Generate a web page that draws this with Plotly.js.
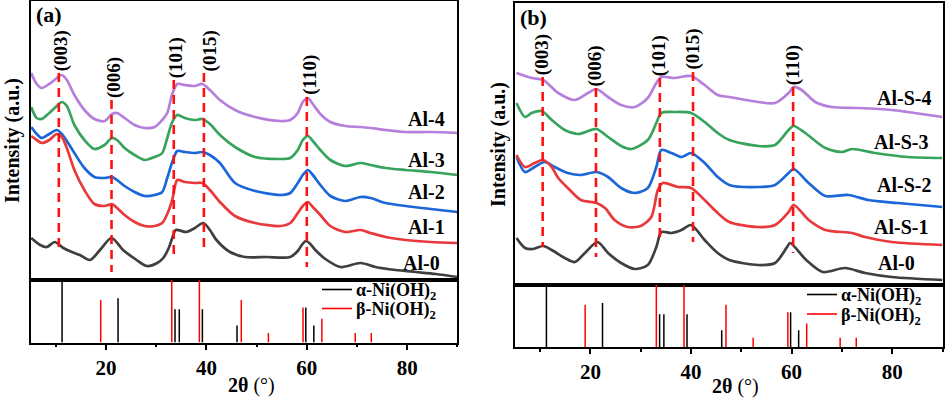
<!DOCTYPE html>
<html><head><meta charset="utf-8">
<script src="https://cdn.plot.ly/plotly-3.0.1.min.js"></script>
<style>html,body{margin:0;padding:0;background:#fff}#c{width:945px;height:398px}</style>
</head><body><div id="c"></div>
<script>
// ---------------- DATA ----------------
// Panel (a): 2θ (deg) and intensity (a.u., offset stacked as in figure)
const xA = [5.1, 6.2, 7.2, 8.7, 10.2, 11.2, 12.2, 13.7, 15.7, 17.7, 19.7, 21.2, 22.2, 23.7, 25.7, 27.7, 29.7, 31.2, 32.2, 33.2, 34.2, 35.7, 37.7, 39.2, 40.7, 42.7, 45.7, 49.7, 54.7, 56.7, 58.2, 59.2, 60.2, 61.2, 62.7, 64.7, 67.7, 70.7, 72.7, 75.7, 79.7, 84.7, 90];
const al4 = [227,216,212,216,222,225,220,205,190,181, 179,186,187,182,175,172,173,180,187,206, 216,215,214,216,210,200,190,183,179,180, 187,198,202,196,186,178,174,173,172,170, 168,168,167];
const al3 = [193,182,181,187,194,198,194,175,160,151, 155,162,160,152,145,140,143,147,162,178, 185,182,180,181,176,165,153,143,141,142, 150,160,164,159,150,140,134,137,135,132, 130,128,125];
const al2 = [173,166,162,166,170,166,159,147,132,123, 122,123,120,114,108,104,105,108,122,138, 149,148,147,148,145,137,117,109,105,107, 117,125,130,125,115,104,99,103,102,97, 94,91,88];
const al1 = [164,160,157,160,166,163,152,130,110,96, 94,96,92,85,78,74,74,77,86,100, 120,118,117,117,110,98,84,77,74,77, 87,94,98,93,85,74,68,70,67,63, 60,58,57];
const xA0 = [5.1, 6.9, 8.2, 9.8, 11.5, 13.2, 14.8, 16.8, 18.8, 21.1, 23.4, 26.1, 28.1, 30.2, 31.4, 32.5, 33.2, 33.9, 36.0, 37.7, 39.4, 40.7, 42.0, 44.7, 47.7, 52.0, 56.7, 58.2, 59.0, 59.8, 60.7, 61.7, 63.7, 66.7, 70.7, 73.7, 77.7, 81.7, 85.7, 90];
const al0a = [62,55,53,58,52,48,45,40,50,62, 50,40,34,37,42,52,62,70,68,72, 77,70,60,48,43,43,43,49,55,59, 56,50,41,33,37,33,30,28,26,23];

// Panel (b)
const xS4 = [5.3, 8.3, 10.6, 13.6, 16.9, 19.5, 21.2, 23.5, 26.1, 28.8, 31.4, 33.1, 34.1, 36.7, 40.0, 42.7, 45.3, 47.6, 53.4, 56.7, 59.4, 60.4, 62.0, 64.7, 68.0, 73.2, 79.9, 83.1, 90];
const alS4 = [227,222,220,207,200,207,211,203,195,193, 202,217,223,222,224,215,205,203,198,197, 207,213,210,198,193,192,190,188,183];
const xS3 = [5.3, 7, 8.3, 10.3, 12.3, 14.9, 17.6, 21.2, 23.5, 26.1, 28.1, 31.4, 33.1, 34.1, 36.7, 40.0, 42.7, 45.3, 47.6, 53.4, 56.7, 59.4, 60.4, 62.7, 66.7, 70.0, 72.0, 76.6, 83.1, 90];
const alS3 = [197,183,187,189,180,170,166,171,163,154, 151,160,177,187,188,187,178,167,160,154, 155,170,174,167,152,148,151,147,143,142];
const xS2 = [5.3, 7, 8.9, 10.9, 12.9, 15.5, 18.1, 21.2, 23.5, 26.1, 28.8, 31.4, 33.1, 34.1, 36.1, 38.1, 40.0, 42.7, 45.3, 47.6, 53.4, 56.7, 59.4, 60.4, 63.4, 66.7, 71.3, 75.2, 81.1, 90];
const alS2 = [143,128,133,138,133,127,125,128,123,112, 107,112,133,150,147,143,147,137,123,115, 113,115,127,131,117,104,105,100,97,93];
const xS1 = [5.3, 7, 8.9, 10.6, 12.3, 13.6, 15.5, 18.1, 21.2, 22.9, 24.8, 27.4, 30.0, 32.1, 33.4, 34.4, 37.4, 40.0, 42.7, 45.3, 47.6, 53.4, 56.7, 59.4, 60.4, 63.4, 66.7, 72.0, 74.6, 79.9, 90];
const alS1 = [145,133,137,140,133,122,112,100,97,92, 80,73,74,83,110,117,113,112,100,87, 78,73,75,88,95,80,70,67,63,58, 55];
const xB0 = [5.3, 7, 8.6, 10.6, 12.3, 14.9, 16.9, 18.9, 21.4, 23.5, 26.1, 28.8, 31.4, 33.1, 34.1, 36.1, 38.1, 40.0, 42.7, 45.3, 47.6, 53.4, 56.7, 59.1, 59.7, 62.9, 66.2, 70.6, 74.6, 79.9, 90];
const al0b = [62,52,51,54,50,42,38,47,58,47, 37,31,35,53,68,67,70,75,60,47, 40,35,37,53,57,40,28,32,27,23, 20];

// Reference patterns (relative intensity)
const alphaPos = [11.25, 22.4, 33.75, 34.6, 39.2, 46.1, 59.8, 61.4];
const alphaInt = [1.0, 0.71, 0.53, 0.53, 0.53, 0.27, 0.56, 0.27];
const betaPos = [18.95, 33.1, 38.6, 46.95, 52.35, 59.25, 63.0, 69.65, 72.85];
const betaInt = [0.68, 1.0, 1.0, 0.68, 0.15, 0.56, 0.38, 0.15, 0.15];

// Miller indices and marker lines
const hkl = ['(003)', '(006)', '(101)', '(015)', '(110)'];
const hklPosA = [10.6, 21.1, 33.5, 39.5, 60.0];
const hklTopA = [227, 200, 220, 227, 203];
const hklBotA = [53, 28, 43, 52, 33];
const hklPosB = [10.5, 21.1, 33.8, 40.4, 60.3];
const hklTopB = [223, 212, 222, 228, 213];
const hklBotB = [53, 43, 60, 58, 47];

const namesA = ['Al-4', 'Al-3', 'Al-2', 'Al-1', 'Al-0'];
const namesB = ['Al-S-4', 'Al-S-3', 'Al-S-2', 'Al-S-1', 'Al-0'];

// ---------------- STYLE / LAYOUT ----------------
const W = 945, H = 398;
const FONT = 'Liberation Serif, Times New Roman, serif';
const COLORS = ['#b67fdb', '#38a35c', '#1b67d8', '#e8393c', '#3f3f3f'];
const fx = p => p / W, fy = p => 1 - p / H;

function curve(x, y, c, xa, ya) {
  return {x, y, xaxis: xa, yaxis: ya, type: 'scatter', mode: 'lines', showlegend: false,
    hoverinfo: 'skip', line: {color: c, width: 2.7, shape: 'spline', smoothing: 0.8}};
}
function sticks(pos, val, c, xa, ya) {
  const x = [], y = [];
  pos.forEach((p, i) => { x.push(p, p, null); y.push(0, val[i], null); });
  return {x, y, xaxis: xa, yaxis: ya, type: 'scatter', mode: 'lines', showlegend: false,
    hoverinfo: 'skip', line: {color: c, width: 1.5}};
}
function dashes(pos, top, bot, xa, ya) {
  const x = [], y = [];
  pos.forEach((p, i) => { x.push(p, p, null); y.push(top[i], bot[i], null); });
  return {x, y, xaxis: xa, yaxis: ya, type: 'scatter', mode: 'lines', showlegend: false,
    hoverinfo: 'skip', line: {color: '#ff1010', width: 2.6, dash: '9px,6px'}};
}

const data = [
  curve(xA, al4, COLORS[0], 'x', 'y'),
  curve(xA, al3, COLORS[1], 'x', 'y'),
  curve(xA, al2, COLORS[2], 'x', 'y'),
  curve(xA, al1, COLORS[3], 'x', 'y'),
  curve(xA0, al0a, COLORS[4], 'x', 'y'),
  dashes(hklPosA, hklTopA, hklBotA, 'x', 'y'),
  sticks(alphaPos, alphaInt, '#000000', 'x2', 'y2'),
  sticks(betaPos, betaInt, '#ff0000', 'x2', 'y2'),
  curve(xS4, alS4, COLORS[0], 'x3', 'y3'),
  curve(xS3, alS3, COLORS[1], 'x3', 'y3'),
  curve(xS2, alS2, COLORS[2], 'x3', 'y3'),
  curve(xS1, alS1, COLORS[3], 'x3', 'y3'),
  curve(xB0, al0b, COLORS[4], 'x3', 'y3'),
  dashes(hklPosB, hklTopB, hklBotB, 'x3', 'y3'),
  sticks(alphaPos, alphaInt, '#000000', 'x4', 'y4'),
  sticks(betaPos, betaInt, '#ff0000', 'x4', 'y4'),
];

const frame = {showline: true, linecolor: '#000', linewidth: 2, mirror: true, zeroline: false,
  showgrid: false, ticks: '', showticklabels: false, fixedrange: true};
const bottomX = Object.assign({}, frame, {showticklabels: true, ticks: 'outside', ticklen: 5, tickwidth: 2,
  tickcolor: '#000', tick0: 0, dtick: 20,
  minor: {ticks: 'outside', ticklen: 2.5, tickwidth: 2, tickcolor: '#000', tick0: 0, dtick: 10},
  tickfont: {family: FONT, size: 21, color: '#000', weight: 'bold'}});

const xdA = [fx(30.7), fx(457.4)], xdB = [fx(515), fx(942.5)];
const layout = {
  width: W, height: H, margin: {l: 0, r: 0, t: 0, b: 0},
  paper_bgcolor: '#fff', plot_bgcolor: '#fff', showlegend: false,
  font: {family: FONT, color: '#000'},
  xaxis:  Object.assign({}, frame, {domain: xdA, range: [5, 90], anchor: 'y'}),
  yaxis:  Object.assign({}, frame, {domain: [fy(280), fy(1)], range: [20, 299], anchor: 'x'}),
  xaxis2: Object.assign({}, bottomX, {domain: xdA, range: [5, 90], anchor: 'y2'}),
  yaxis2: Object.assign({}, frame, {domain: [fy(342.5), fy(280)], range: [0, 1], anchor: 'x2'}),
  xaxis3: Object.assign({}, frame, {domain: xdB, range: [5, 90], anchor: 'y3'}),
  yaxis3: Object.assign({}, frame, {domain: [fy(285), fy(3)], range: [15, 297], anchor: 'x3'}),
  xaxis4: Object.assign({}, bottomX, {domain: xdB, range: [5, 90], anchor: 'y4'}),
  yaxis4: Object.assign({}, frame, {domain: [fy(347), fy(285)], range: [0, 1], anchor: 'x4'}),
  annotations: [], shapes: []
};
const A = layout.annotations;
function txt(o) { A.push(Object.assign({showarrow: false, font: {family: FONT, size: 20, color: '#000'}}, o)); }

// panel letters
txt({text: '<b>(a)</b>', xref: 'paper', yref: 'paper', x: fx(34), y: fy(15), xanchor: 'left', yanchor: 'middle', font: {family: FONT, size: 22, color: '#000'}});
txt({text: '<b>(b)</b>', xref: 'paper', yref: 'paper', x: fx(518), y: fy(18), xanchor: 'left', yanchor: 'middle', font: {family: FONT, size: 22, color: '#000'}});
// axis titles
txt({text: '<b>2θ</b> (°)', xref: 'paper', yref: 'paper', x: fx(251), y: fy(385), xanchor: 'center', yanchor: 'middle'});
txt({text: '<b>2θ</b> (°)', xref: 'paper', yref: 'paper', x: fx(735), y: fy(386), xanchor: 'center', yanchor: 'middle'});
txt({text: '<b>Intensity (a.u.)</b>', xref: 'paper', yref: 'paper', x: fx(13), y: fy(141), textangle: -90, xanchor: 'center', yanchor: 'middle'});
txt({text: '<b>Intensity (a.u.)</b>', xref: 'paper', yref: 'paper', x: fx(498), y: fy(145), textangle: -90, xanchor: 'center', yanchor: 'middle'});
// hkl labels
hkl.forEach((h, i) => {
  txt({text: '<b>' + h + '</b>', xref: 'x', yref: 'y', x: hklPosA[i], y: hklTopA[i], textangle: -90,
    xanchor: 'center', yanchor: 'bottom', xshift: i === 3 ? 7 : 3, font: {family: FONT, size: 19, color: '#000'}});
  txt({text: '<b>' + h + '</b>', xref: 'x3', yref: 'y3', x: hklPosB[i], y: hklTopB[i], textangle: -90,
    xanchor: 'center', yanchor: 'bottom', font: {family: FONT, size: 19, color: '#000'}});
});
// sample labels
const labYA = [181, 140, 108, 73, 37], labXA = [87.9, 87.9, 87.9, 87.9, 86.9];
const labYB = [202, 158, 115, 73, 37], labXB = [88.1, 87.5, 88.1, 87.5, 85.0];
namesA.forEach((n, i) => txt({text: '<b>' + n + '</b>', xref: 'x', yref: 'y', x: labXA[i], y: labYA[i], xanchor: 'right', yanchor: 'middle'}));
namesB.forEach((n, i) => txt({text: '<b>' + n + '</b>', xref: 'x3', yref: 'y3', x: labXB[i], y: labYB[i], xanchor: 'right', yanchor: 'middle'}));

// manual legends in the stick panels
function legend(x0, yA, yB) {
  [[yA, '#000', '<b>α-Ni(OH)<sub>2</sub></b>'], [yB, '#ff0000', '<b>β-Ni(OH)<sub>2</sub></b>']].forEach(([yy, c, t]) => {
    layout.shapes.push({type: 'line', xref: 'paper', yref: 'paper', x0: fx(x0), x1: fx(x0 + 30), y0: fy(yy), y1: fy(yy), line: {color: c, width: 1.6}});
    txt({text: t, xref: 'paper', yref: 'paper', x: fx(x0 + 32), y: fy(yy + 2), xanchor: 'left', yanchor: 'middle', font: {family: FONT, size: 18, color: '#000'}});
  });
}
legend(322, 289.5, 308.5);
legend(807, 294.5, 314);

Plotly.newPlot('c', data, layout, {staticPlot: true, displayModeBar: false});
</script></body></html>
